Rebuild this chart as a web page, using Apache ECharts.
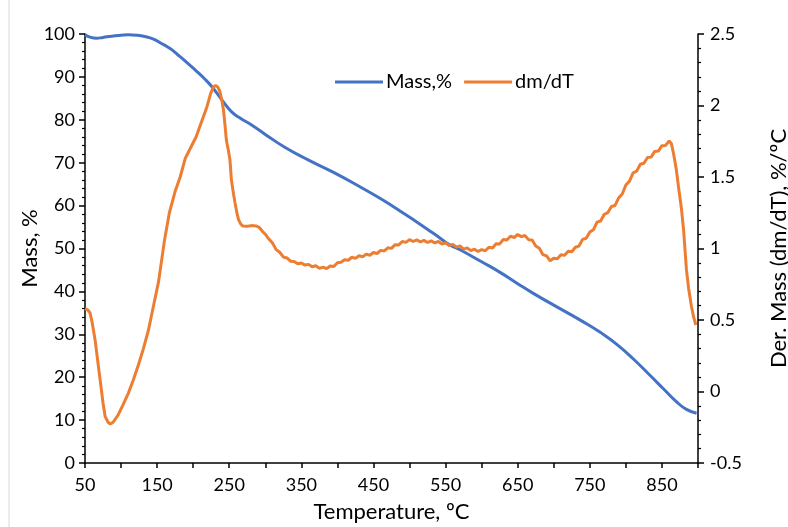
<!DOCTYPE html>
<html>
<head>
<meta charset="utf-8">
<script src="https://cdn.jsdelivr.net/npm/echarts@6/dist/echarts.min.js"></script>
<style>html,body{margin:0;padding:0;background:#fff}#c{width:788px;height:527px}</style>
</head>
<body>
<div id="c"></div>
<script>
const xTicks = [50,150,250,350,450,550,650,750,850];
const massT = [50,58,66,75,87,100,110,122,133,145,156,168,179,191,203,215,226,240,253,266,281,300,327,360,394,430,463,490,510,535,556,570,600,625,650,671,700,741,765,787,810,833,852,870,884,898];
const massV = [99.8,99.2,99.0,99.2,99.5,99.7,99.8,99.7,99.4,98.8,97.8,96.6,95.1,93.4,91.6,89.7,87.7,84.6,81.9,80.3,78.8,76.6,73.6,70.6,67.8,64.5,61.3,58.4,56.2,53.3,50.8,49.7,46.9,44.5,41.8,39.6,36.8,32.9,30.4,27.7,24.3,20.5,17.3,14.3,12.5,11.6];
const dmT = [50,54,57,60,64,68,71,75,78,82,85,89,96,103,110,117,124,131,138,145,152,160,167,175,182,189,194,198,204,209,214,219,224,228,231,234,237,240,242,244,246,249,251,253,256,258,261,263,266,269,275,281,287,291,296,
300,305,310,315,320,325,330,335,340,345,350,355,360,365,370,375,380,385,390,395,400,405,410,415,420,425,430,435,440,445,450,455,460,465,470,475,480,485,490,495,500,505,510,515,520,525,530,535,540,545,550,555,560,565,570,575,580,585,590,595,600,605,610,615,620,625,630,635,640,645,650,655,660,665,670,675,680,685,690,695,700,705,710,715,720,725,730,735,740,745,750,755,760,765,770,775,780,785,790,795,800,805,810,815,820,825,830,835,840,845,850,855,860,863,866,870,873,877,880,884,887,891,894,897];
const dmV = [0.58,0.57,0.55,0.48,0.36,0.2,0.08,-0.08,-0.176,-0.215,-0.227,-0.215,-0.164,-0.09,-0.013,0.08,0.185,0.3,0.43,0.6,0.768,1.05,1.25,1.4,1.5,1.63,1.68,1.72,1.78,1.85,1.92,1.99,2.08,2.13,2.14,2.13,2.1,2.03,1.97,1.87,1.76,1.68,1.62,1.48,1.38,1.32,1.24,1.2,1.17,1.157,1.155,1.16,1.158,1.15,1.12,
1.100,1.066,1.038,0.992,0.974,0.941,0.934,0.911,0.909,0.893,0.899,0.884,0.889,0.872,0.879,0.861,0.870,0.859,0.878,0.874,0.901,0.904,0.921,0.918,0.939,0.931,0.949,0.942,0.961,0.953,0.972,0.965,0.987,0.983,1.005,1.001,1.027,1.025,1.049,1.043,1.062,1.049,1.061,1.046,1.057,1.042,1.054,1.039,1.049,1.031,1.040,1.021,1.029,1.010,1.018,0.996,1.004,0.985,0.995,0.979,0.992,0.984,1.008,1.004,1.033,1.032,1.063,1.060,1.086,1.077,1.098,1.083,1.091,1.062,1.060,1.017,1.002,0.957,0.948,0.914,0.932,0.928,0.956,0.952,0.980,0.977,1.009,1.017,1.064,1.072,1.115,1.131,1.184,1.192,1.239,1.251,1.294,1.301,1.354,1.381,1.444,1.471,1.529,1.541,1.589,1.596,1.636,1.639,1.679,1.681,1.719,1.721,1.752,1.735,1.666,1.55,1.43,1.28,1.13,0.85,0.72,0.593,0.52,0.465];

const FONT = 'Lato';
const chart = echarts.init(document.getElementById('c'));
const axisLineStyle = {color:'#000', width:1.5};
chart.setOption({
  animation:false,
  backgroundColor:'#fff',
  textStyle:{fontFamily:FONT},
  graphic:[{type:'line', shape:{x1:9,y1:0,x2:9,y2:527}, style:{stroke:'#d9d9d9', lineWidth:1}}],
  legend:{
    top:67, left:330, itemGap:12, itemWidth:48, itemHeight:3, icon:'rect',
    textStyle:{fontFamily:FONT, fontSize:20, color:'#000', padding:[0,0,0,-2]},
    data:['Mass,%','dm/dT']
  },
  grid:{left:85, right:90, top:34, bottom:64, containLabel:false, outerBoundsMode:'none'},
  xAxis:{
    type:'value', min:50, max:900, interval:50,
    name:'Temperature, ºC', nameLocation:'middle', nameGap:38,
    nameTextStyle:{fontFamily:FONT, fontSize:22, color:'#000'},
    axisLine:{show:true, lineStyle:axisLineStyle},
    axisTick:{show:true, length:5, inside:false, lineStyle:axisLineStyle},
    axisLabel:{color:'#000', fontSize:18, fontFamily:FONT, margin:13,
      formatter:v => (xTicks.indexOf(v) >= 0 ? String(v) : '')},
    splitLine:{show:false}
  },
  yAxis:[{
    type:'value', min:0, max:100, interval:10, position:'left',
    name:'Mass, %', nameLocation:'middle', nameGap:44, nameRotate:90, nameMoveOverlap:false,
    nameTextStyle:{fontFamily:FONT, fontSize:22, color:'#000'},
    axisLine:{show:true, lineStyle:axisLineStyle},
    axisTick:{show:true, length:6, lineStyle:axisLineStyle},
    minorTick:{show:true, splitNumber:5, length:3, lineStyle:{color:'#000', width:1.2}},
    axisLabel:{color:'#000', fontSize:18, fontFamily:FONT, margin:10},
    splitLine:{show:false}
  },{
    type:'value', min:-0.5, max:2.5, interval:0.5, position:'right',
    name:'Der. Mass (dm/dT), %/ºC', nameLocation:'middle', nameGap:70, nameRotate:90,
    nameTextStyle:{fontFamily:FONT, fontSize:22, color:'#000'},
    axisLine:{show:true, lineStyle:axisLineStyle},
    axisTick:{show:true, length:6, lineStyle:axisLineStyle},
    minorTick:{show:true, splitNumber:5, length:3, lineStyle:{color:'#000', width:1.2}},
    axisLabel:{color:'#000', fontSize:18, fontFamily:FONT, margin:12},
    splitLine:{show:false}
  }],
  series:[{
    name:'Mass,%', type:'line', yAxisIndex:0, smooth:true, showSymbol:false,
    lineStyle:{color:'#4472C4', width:3}, itemStyle:{color:'#4472C4'},
    data: massT.map((t,i)=>[t, massV[i]])
  },{
    name:'dm/dT', type:'line', yAxisIndex:1, smooth:false, showSymbol:false,
    lineStyle:{color:'#ED7D31', width:3}, itemStyle:{color:'#ED7D31'},
    data: dmT.map((t,i)=>[t, dmV[i]])
  }]
});
</script>
</body>
</html>
